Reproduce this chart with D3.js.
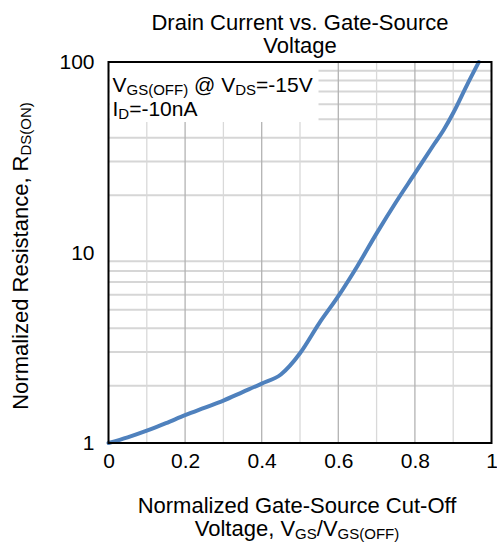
<!DOCTYPE html>
<html>
<head>
<meta charset="utf-8">
<script src="https://cdn.jsdelivr.net/npm/d3@7/dist/d3.min.js"></script>
<style>
  body { margin: 0; background: #fff; }
  text { font-family: "Liberation Sans", Arial, sans-serif; fill: #000; }
</style>
</head>
<body>
<svg id="chart"></svg>
<script>
// values
var ratio = [0, 0.05, 0.1, 0.15, 0.2, 0.25, 0.3, 0.35, 0.4, 0.45, 0.5, 0.55, 0.6, 0.65, 0.7, 0.75, 0.8, 0.85, 0.875, 0.9, 0.935, 0.967];
var resistance = [1, 1.07, 1.16, 1.27, 1.40, 1.53, 1.67, 1.85, 2.05, 2.29, 2.96, 4.25, 5.9, 8.5, 12.6, 18.3, 26, 37, 44, 54, 75, 100];
var xTicks = [0, 0.2, 0.4, 0.6, 0.8, 1];
var yTicks = [1, 10, 100];

var svgWidth = 497, svgHeight = 547;
var margin = { top: 62, right: 5.5, bottom: 104, left: 108.5 };
var width = svgWidth - margin.left - margin.right;
var height = svgHeight - margin.top - margin.bottom;

var svg = d3.select("#chart")
    .attr("width", svgWidth)
    .attr("height", svgHeight);

var g = svg.append("g")
    .attr("transform", "translate(" + margin.left + "," + margin.top + ")");

var x = d3.scaleLinear().domain([0, 1]).range([0, width]);
var y = d3.scaleLog().domain([1, 100]).range([height, 0]);

// horizontal grid (2..9 in each decade light, decades darker)
var yGrid = [];
for (var d = 1; d < 100; d *= 10) {
    for (var k = 2; k <= 9; k++) yGrid.push(d * k);
}
g.selectAll(".hgrid").data(yGrid).enter().append("line")
    .attr("x1", 0).attr("x2", width)
    .attr("y1", function(v) { return y(v); })
    .attr("y2", function(v) { return y(v); })
    .attr("stroke", function(v) { return v === 10 ? "#a6a6a6" : "#d6d6d6"; })
    .attr("stroke-width", 2);

// vertical grid
var xGrid = d3.range(1, 10).map(function(i) { return i / 10; });
g.selectAll(".vgrid").data(xGrid).enter().append("line")
    .attr("y1", 0).attr("y2", height)
    .attr("x1", function(v) { return x(v); })
    .attr("x2", function(v) { return x(v); })
    .attr("stroke", function(v, i) { return i % 2 === 1 ? "#b3b3b3" : "#d9d9d9"; })
    .attr("stroke-width", 1.3);

// annotation box hides the grid behind it
g.append("rect")
    .attr("x", 1).attr("y", 1)
    .attr("width", 209).attr("height", 59)
    .attr("fill", "#fff");

var note1 = g.append("text").attr("x", 4).attr("y", 30).style("font-size", "21px");
note1.append("tspan").text("V");
note1.append("tspan").attr("dy", 3).style("font-size", "15px").text("GS(OFF)");
note1.append("tspan").attr("dy", -3).text(" @ V");
note1.append("tspan").attr("dy", 3).style("font-size", "15px").text("DS");
note1.append("tspan").attr("dy", -3).text("=-15V");

var note2 = g.append("text").attr("x", 4).attr("y", 54).style("font-size", "21px");
note2.append("tspan").text("I");
note2.append("tspan").attr("dy", 3).style("font-size", "15px").text("D");
note2.append("tspan").attr("dy", -3).text("=-10nA");

// curve
var line = d3.line()
    .x(function(d) { return x(d[0]); })
    .y(function(d) { return y(d[1]); })
    .curve(d3.curveMonotoneX);

g.append("path")
    .datum(d3.zip(ratio, resistance))
    .attr("fill", "none")
    .attr("stroke", "#4f81bd")
    .attr("stroke-width", 4)
    .attr("stroke-linecap", "round")
    .attr("stroke-linejoin", "round")
    .attr("d", line);

// frame
g.append("rect")
    .attr("x", 0).attr("y", 0)
    .attr("width", width).attr("height", height)
    .attr("fill", "none")
    .attr("stroke", "#000")
    .attr("stroke-width", 2);

// axes labels
var xAxis = g.append("g")
    .attr("transform", "translate(0," + height + ")")
    .call(d3.axisBottom(x).tickValues(xTicks).tickSize(0).tickPadding(10)
        .tickFormat(function(v) { return v === 0 || v === 1 ? v : d3.format(".1f")(v); }));
xAxis.select(".domain").remove();
xAxis.selectAll("text").style("font-size", "21px").style("font-family", "Liberation Sans, Arial, sans-serif");

var yAxis = g.append("g")
    .call(d3.axisLeft(y).tickValues(yTicks).tickSize(0).tickPadding(14).tickFormat(d3.format("d")));
yAxis.select(".domain").remove();
yAxis.selectAll("text").style("font-size", "21px").style("font-family", "Liberation Sans, Arial, sans-serif");

// title
svg.append("text").attr("x", 300).attr("y", 30).attr("text-anchor", "middle")
    .style("font-size", "22px").text("Drain Current vs. Gate-Source");
svg.append("text").attr("x", 300).attr("y", 53).attr("text-anchor", "middle")
    .style("font-size", "22px").text("Voltage");

// x title
svg.append("text").attr("x", 297).attr("y", 513).attr("text-anchor", "middle")
    .style("font-size", "22px").text("Normalized Gate-Source Cut-Off");
var xt = svg.append("text").attr("x", 297).attr("y", 536).attr("text-anchor", "middle")
    .style("font-size", "22px");
xt.append("tspan").text("Voltage, V");
xt.append("tspan").attr("dy", 3).style("font-size", "15px").text("GS");
xt.append("tspan").attr("dy", -3).text("/V");
xt.append("tspan").attr("dy", 3).style("font-size", "15px").text("GS(OFF)");

// y title
var yt = svg.append("text")
    .attr("transform", "translate(28,256) rotate(-90)")
    .attr("text-anchor", "middle")
    .style("font-size", "22px");
yt.append("tspan").text("Normalized Resistance, R");
yt.append("tspan").attr("dy", 3).style("font-size", "15px").text("DS(ON)");
</script>
</body>
</html>
